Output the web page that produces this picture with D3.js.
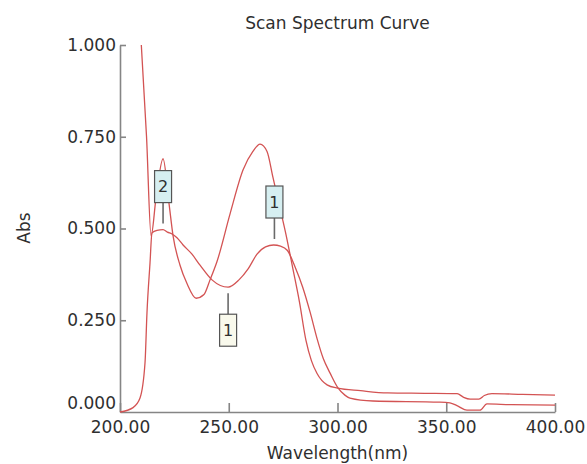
<!DOCTYPE html>
<html>
<head>
<meta charset="utf-8">
<script src="https://cdn.jsdelivr.net/npm/d3@7"></script>
<style>
	body { margin: 0; background: #fff; }
	text { font-family: "DejaVu Sans", Verdana, sans-serif; fill: #2f2f2f; }
</style>
</head>
<body>
<svg id="chart" width="587" height="464"></svg>
<script>
// spectrum 1 (starts high at the cutoff)
const wlA = [209.8, 212.2, 214.3, 216.5, 219.8, 222.5, 224.4, 227.6, 230.8, 235.0, 238.6, 241.4, 244.6, 250.6, 256.6, 261.1, 264.4, 267.6, 270.3, 273.0, 276.8, 279.5, 282.5, 285.5, 288.0, 290.6, 295.2, 300.0, 310.6, 323.0, 340.0, 355.0, 358.0, 361.0, 365.0, 367.5, 371.0, 385.0, 400.0];
const absA = [1.0, 0.75, 0.48, 0.58, 0.69, 0.57, 0.48, 0.40, 0.35, 0.31, 0.32, 0.36, 0.41, 0.54, 0.66, 0.71, 0.73, 0.71, 0.64, 0.57, 0.47, 0.39, 0.30, 0.195, 0.14, 0.105, 0.074, 0.065, 0.058, 0.052, 0.051, 0.05, 0.04, 0.035, 0.035, 0.045, 0.05, 0.048, 0.046];

// spectrum 2 (the one with the picked peaks)
const wlB = [200.0, 206.0, 209.2, 211.5, 212.4, 213.8, 214.7, 217.0, 219.8, 221.8, 223.9, 226.2, 229.0, 233.1, 236.8, 242.3, 249.7, 254.7, 258.9, 263.0, 266.9, 270.6, 273.8, 277.0, 280.5, 284.0, 287.5, 290.6, 293.5, 296.6, 300.3, 303.4, 305.7, 316.3, 347.1, 351.7, 355.4, 359.5, 365.5, 368.7, 380.0, 400.0];
const absB = [0.0, 0.012, 0.038, 0.134, 0.27, 0.406, 0.488, 0.495, 0.497, 0.49, 0.485, 0.475, 0.455, 0.43, 0.40, 0.36, 0.34, 0.36, 0.39, 0.43, 0.45, 0.455, 0.452, 0.44, 0.395, 0.34, 0.27, 0.20, 0.145, 0.106, 0.065, 0.046, 0.038, 0.03, 0.027, 0.025, 0.016, 0.005, 0.005, 0.022, 0.02, 0.019];

// peak / valley picks
const pickWl = [219.8, 271.0, 249.7];
const pickAbs = [0.497, 0.455, 0.34];
const pickLabel = ["2", "1", "1"];
const pickType = ["peak", "peak", "valley"];

const xTicks = [200, 250, 300, 350, 400];
const yTicks = [0, 0.25, 0.5, 0.75, 1.0];

const svg = d3.select("#chart");
const margin = { left: 120, right: 32, top: 45, bottom: 52 };
const W = 587, H = 464;

let x = d3.scaleLinear().domain([200, 400]).range([margin.left, W - margin.right]);
let y = d3.scaleLinear().domain([0, 1]).range([H - margin.bottom, margin.top]);

// axes
let xAxis = svg.append("g")
	.attr("transform", `translate(0, ${H - margin.bottom})`)
	.call(d3.axisBottom(x).tickValues(xTicks).tickFormat(d3.format(".2f"))
		.tickSizeInner(-9).tickSizeOuter(0).tickPadding(9));

let yAxis = svg.append("g")
	.attr("transform", `translate(${margin.left}, 0)`)
	.call(d3.axisLeft(y).tickValues(yTicks).tickFormat(d3.format(".3f"))
		.tickSizeInner(-6).tickSizeOuter(0).tickPadding(4));

[xAxis, yAxis].forEach((a) => {
	a.selectAll("path, line").attr("stroke", "#858585").attr("stroke-width", 1.6);
	a.selectAll("text").attr("font-size", 17).style("fill", "#2f2f2f");
});
// the zero label sits a little above the corner
yAxis.selectAll(".tick").filter((d) => d === 0).select("text").attr("y", -9);
yAxis.selectAll(".tick").filter((d) => d === 0).select("line").remove();

// curves
let line = d3.line()
	.x((d) => x(d[0]))
	.y((d) => y(d[1]))
	.curve(d3.curveMonotoneX);

[[wlA, absA], [wlB, absB]].forEach(([wl, ab]) => {
	svg.append("path")
		.datum(wl.map((w, i) => [w, ab[i]]))
		.attr("fill", "none")
		.attr("stroke", "#d35353")
		.attr("stroke-width", 1.3)
		.attr("d", line);
});

// pick markers
pickWl.forEach((w, i) => {
	let up = pickType[i] === "peak";
	let g = svg.append("g").attr("transform", `translate(${x(w)}, ${y(pickAbs[i])})`);
	g.append("line")
		.attr("x1", 0).attr("x2", 0)
		.attr("y1", up ? -6 : 6).attr("y2", up ? -27 : 27)
		.attr("stroke", "#6a6a6a").attr("stroke-width", 1.6);
	g.append("rect")
		.attr("x", -8.5).attr("width", 17)
		.attr("y", up ? -59 : 27).attr("height", 32)
		.attr("fill", up ? "#d6eff1" : "#f9f9ec")
		.attr("stroke", "#555").attr("stroke-width", 1.2);
	g.append("text")
		.attr("x", 0).attr("y", up ? -43 : 43)
		.attr("dy", "0.36em")
		.attr("text-anchor", "middle")
		.attr("font-size", 16)
		.text(pickLabel[i]);
});

// titles
svg.append("text")
	.attr("x", (x.range()[0] + x.range()[1]) / 2).attr("y", 29)
	.attr("text-anchor", "middle").attr("font-size", 17)
	.text("Scan Spectrum Curve");

svg.append("text")
	.attr("x", (x.range()[0] + x.range()[1]) / 2).attr("y", 459)
	.attr("text-anchor", "middle").attr("font-size", 17)
	.text("Wavelength(nm)");

svg.append("text")
	.attr("transform", `translate(30, 228) rotate(-90)`)
	.attr("text-anchor", "middle").attr("font-size", 17)
	.text("Abs");
</script>
</body>
</html>
